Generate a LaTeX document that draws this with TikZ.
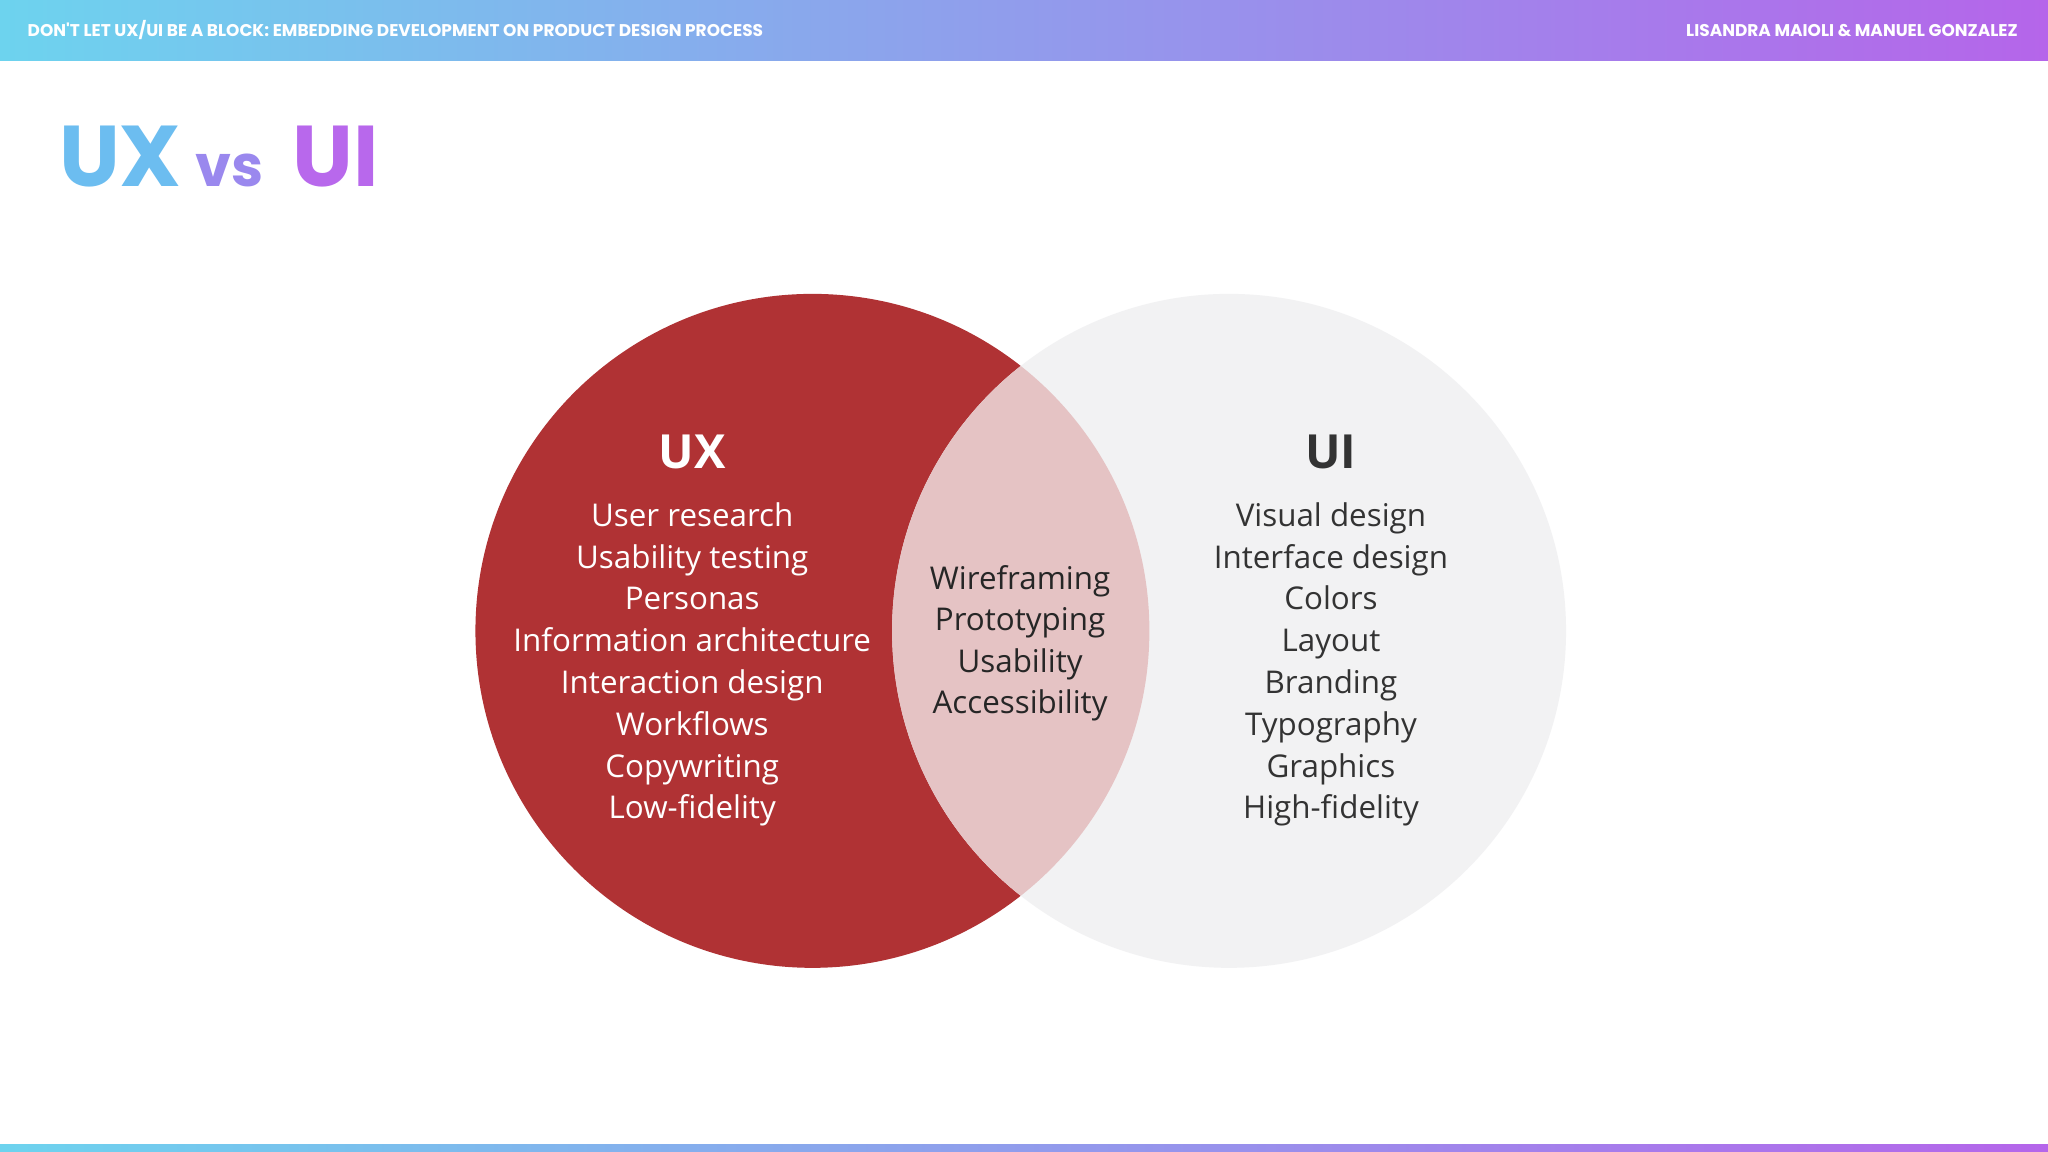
\documentclass[tikz,border=0pt]{standalone}
\usepackage{fontspec}
\setmainfont{Open Sans}
\newfontfamily\pop{Poppins}
\definecolor{ucyan}{HTML}{6DD3EE}
\definecolor{upurp}{HTML}{B565EA}
\definecolor{uxred}{HTML}{B03234}
\definecolor{uigray}{HTML}{F2F2F3}
\definecolor{mid}{HTML}{E5C3C4}
\definecolor{dk}{HTML}{333333}
\tikzset{item/.style={font=\fontsize{24}{28}\selectfont, inner sep=0pt, anchor=base},
 head/.style={font=\bfseries\fontsize{36}{40}\selectfont, inner sep=0pt, anchor=base},
 bar/.style={font=\pop\bfseries\fontsize{13}{14}\selectfont, text=white, inner sep=0pt}}
\begin{document}
\begin{tikzpicture}[x=1pt,y=-1pt]
\useasboundingbox (0,0) rectangle (1568,882);
\fill[white] (0,0) rectangle (1568,882);
\shade[left color=ucyan,right color=upurp] (0,0) rectangle (1568,46);
\shade[left color=ucyan,right color=upurp] (0,876) rectangle (1568,882);
\node[bar,anchor=west] (ht) at (21,23) {DON'T LET UX/UI BE A BLOCK: EMBEDDING DEVELOPMENT ON PRODUCT DESIGN PROCESS};
\node[bar,anchor=east] (ha) at (1545,23) {LISANDRA MAIOLI \& MANUEL GONZALEZ};
\node[anchor=base west,inner sep=0pt,font=\pop\bfseries\fontsize{66}{70}\selectfont] (title) at (45,143)
 {\textcolor[HTML]{6CBDF0}{UX}\,{\fontsize{44}{50}\selectfont\textcolor[HTML]{9A88EE}{vs}}\,\,\textcolor[HTML]{B868EC}{UI}};
\fill[uxred] (622,483) circle (258);
\fill[uigray] (941,483) circle (258);
\begin{scope}
\clip (622,483) circle (258);
\fill[mid] (941,483) circle (258);
\end{scope}
\node[head,text=white] (ux) at (530,359) {UX};
\node[head,text=dk] (ui) at (1019,359) {UI};
\foreach \t [count=\i] in {User research,Usability testing,Personas,Information architecture,Interaction design,Workflows,Copywriting,Low-fidelity}
 \node[item,text=white] (l\i) at (530,{371+32*\i}) {\t};
\foreach \t [count=\i] in {Visual design,Interface design,Colors,Layout,Branding,Typography,Graphics,High-fidelity}
 \node[item,text=dk] (r\i) at (1019,{371+32*\i}) {\t};
\foreach \t [count=\i] in {Wireframing,Prototyping,Usability,Accessibility}
 \node[item,text=black!85] (m\i) at (781,{420+31.5*\i}) {\t};
\end{tikzpicture}
\end{document}
